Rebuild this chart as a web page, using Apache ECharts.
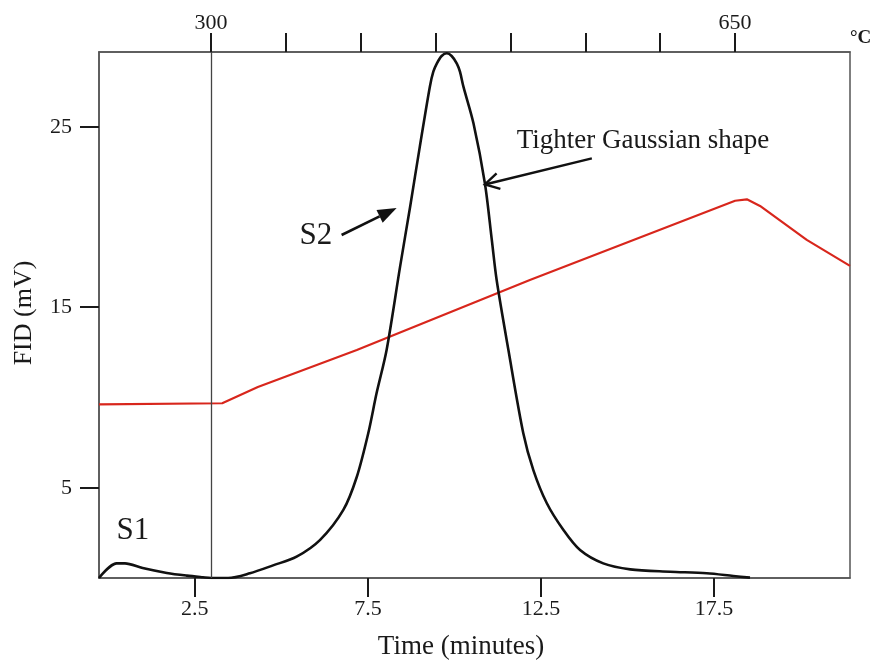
<!DOCTYPE html>
<html>
<head>
<meta charset="utf-8">
<script src="https://cdn.jsdelivr.net/npm/echarts@6/dist/echarts.min.js"></script>
<style>html,body{margin:0;padding:0;background:#fff}#c{width:876px;height:660px}</style>
</head>
<body>
<div id="c"></div>
<script>
// FID signal (black curve): [time (min), FID (mV)]
var fidTime = [-0.27,0.24,0.48,0.99,1.69,2.27,2.73,2.97,3.46,4.09,4.76,5.44,6.12,6.79,7.18,7.51,7.75,8.04,8.43,8.72,9.00,9.29,9.39,9.49,9.63,9.78,9.92,10.07,10.16,10.26,10.55,10.88,11.08,11.22,11.56,11.99,12.28,12.67,13.15,13.63,14.30,15.08,16.23,17.29,18.06,18.54];
var fidValue = [0.00,0.81,0.81,0.55,0.28,0.13,0.04,0.00,0.00,0.26,0.70,1.18,2.11,3.77,5.61,8.02,10.23,12.63,17.25,20.57,23.90,27.22,28.05,28.50,28.92,29.07,28.92,28.50,28.05,27.22,25.19,21.87,18.73,16.51,12.63,8.02,5.98,4.14,2.66,1.55,0.81,0.48,0.35,0.26,0.11,0.02];
// Oven temperature programme (red line), drawn on the FID scale
var tempTime = [-0.27,3.29,4.32,7.18,12.18,18.11,18.45,18.83,20.18,21.43];
var tempValue = [9.62,9.68,10.58,12.63,16.51,20.90,20.98,20.61,18.73,17.29];
// axis ticks
var timeTicks = [2.5,7.5,12.5,17.5];
var fidTicks = [5,15,25];
var tempTicks = [300,350,400,450,500,550,600,650];
var tempLabels = [300,650];
var startTime = 2.97; // 300 °C marker
// annotations [time, FID]
var s1Pos = [0.71,2.6];
var s2Pos = [6.0,18.95];
var tighterPos = [11.8,24.2];
var s2Arrow = [[6.74,19.0],[8.33,20.5]];
var tighterArrow = [[13.97,23.25],[10.88,21.8]];

function zip(a,b){return a.map(function(v,i){return [v,b[i]];});}
var serif = '"Liberation Serif","DejaVu Serif",serif';
var ink = '#1a1a1a';

var chart = echarts.init(document.getElementById('c'));
chart.setOption({
  animation:false,
  backgroundColor:'#fff',
  grid:{left:99,right:26,top:52,bottom:82,show:true,borderColor:'#555',borderWidth:1.5},
  xAxis:[{
    type:'value',position:'bottom',min:-0.27,max:21.43,
    axisLine:{show:true,onZero:false,lineStyle:{color:'#555',width:1.5}},
    axisTick:{show:true,customValues:timeTicks,length:19,lineStyle:{color:ink,width:2}},
    axisLabel:{customValues:timeTicks,margin:20,fontFamily:serif,fontSize:22,color:ink},
    splitLine:{show:false}
  },{
    type:'value',position:'top',min:225.2,max:726.8,
    axisLine:{show:true,onZero:false,lineStyle:{color:'#555',width:1.5}},
    axisTick:{show:true,customValues:tempTicks,length:19,lineStyle:{color:ink,width:2}},
    axisLabel:{customValues:tempLabels,margin:18,fontFamily:serif,fontSize:22,color:ink},
    splitLine:{show:false}
  }],
  yAxis:[{
    type:'value',min:0,max:29.14,
    axisLine:{show:true,onZero:false,lineStyle:{color:'#555',width:1.5}},
    axisTick:{show:true,customValues:fidTicks,length:19,lineStyle:{color:ink,width:2}},
    axisLabel:{customValues:fidTicks,margin:27,fontFamily:serif,fontSize:22,color:ink},
    splitLine:{show:false}
  }],
  series:[{
    name:'Temperature',type:'line',data:zip(tempTime,tempValue),
    showSymbol:false,lineStyle:{color:'#d8261c',width:2.2},z:2
  },{
    name:'FID',type:'line',data:zip(fidTime,fidValue),
    showSymbol:false,smooth:0.3,lineStyle:{color:'#111',width:2.6,join:'round'},z:3,
    markLine:{
      silent:true,symbol:['none','none'],label:{show:false},
      lineStyle:{color:'#444',width:1.3,type:'solid'},
      data:[{xAxis:startTime}]
    }
  }]
});
function px(p){return chart.convertToPixel({xAxisIndex:0,yAxisIndex:0},p);}
function arrowHead(tail,head,len,half){
  var dx=head[0]-tail[0], dy=head[1]-tail[1], L=Math.sqrt(dx*dx+dy*dy);
  var ux=dx/L, uy=dy/L, nx=-uy, ny=ux;
  var bx=head[0]-ux*len, by=head[1]-uy*len;
  return [[bx+nx*half,by+ny*half],head,[bx-nx*half,by-ny*half]];
}
var a=px(s1Pos), b=px(s2Pos), c=px(tighterPos);
var s2t=px(s2Arrow[0]), s2h=px(s2Arrow[1]);
var tt=px(tighterArrow[0]), th=px(tighterArrow[1]);
var s2Head=arrowHead(s2t,s2h,19,7);
var tHead=arrowHead(tt,th,14,8);
var s2mid=[(s2Head[0][0]+s2Head[2][0])/2,(s2Head[0][1]+s2Head[2][1])/2];
chart.setOption({graphic:[
  {type:'text',left:850,top:29,style:{text:'°C',font:'bold 19px '+serif,fill:ink}},
  {type:'text',x:461,y:647,style:{text:'Time (minutes)',font:'27px '+serif,fill:ink,align:'center',verticalAlign:'middle'}},
  {type:'text',x:24,y:313,rotation:Math.PI/2,style:{text:'FID (mV)',font:'26px '+serif,fill:ink,align:'center',verticalAlign:'middle'}},
  {type:'text',x:a[0],y:a[1],style:{text:'S1',font:'31px '+serif,fill:ink,align:'center',verticalAlign:'middle'}},
  {type:'text',x:b[0],y:b[1],style:{text:'S2',font:'31px '+serif,fill:ink,align:'center',verticalAlign:'middle'}},
  {type:'text',x:c[0],y:c[1],style:{text:'Tighter Gaussian shape',font:'27px '+serif,fill:ink,align:'left',verticalAlign:'middle'}},
  {type:'line',shape:{x1:s2t[0],y1:s2t[1],x2:s2mid[0],y2:s2mid[1]},style:{stroke:'#111',lineWidth:2.6}},
  {type:'polygon',shape:{points:s2Head},style:{fill:'#111'}},
  {type:'line',shape:{x1:tt[0],y1:tt[1],x2:th[0],y2:th[1]},style:{stroke:'#111',lineWidth:2.4}},
  {type:'polyline',shape:{points:tHead},style:{stroke:'#111',lineWidth:2.4,fill:null}}
]});
</script>
</body>
</html>
